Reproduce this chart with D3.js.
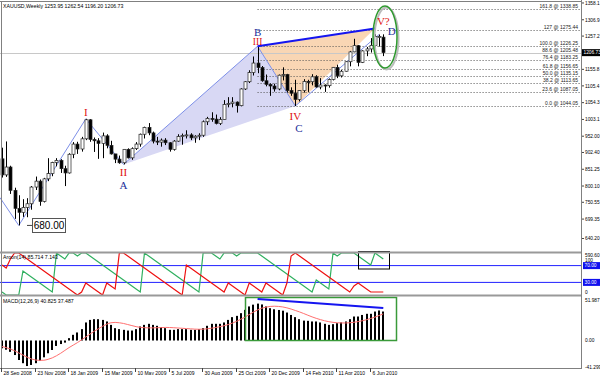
<!DOCTYPE html>
<html>
<head>
<meta charset="utf-8">
<script src="https://cdn.jsdelivr.net/npm/d3@7/dist/d3.min.js"></script>
<style>
  body { margin: 0; background: #fff; }
  svg { display: block; }
  text { font-family: "Liberation Sans", Arial, sans-serif; }
  text.wave { font-family: "Liberation Serif", "DejaVu Serif", serif; }
</style>
</head>
<body>
<svg id="chart" width="600" height="375"></svg>
<script>
// weekly XAUUSD bars, first bar = week of 28 Sep 2008
const open = [883,834,858,787,732,720,735,746,797,815,753,822,838,872,878,853,840,897,928,913,944,1002,942,938,930,953,924,898,882,871,912,886,914,928,958,979,962,937,934,940,932,912,937,951,954,956,947,952,955,996,1006,1004,991,1003,1049,1052,1056,1045,1096,1118,1146,1175,1161,1121,1110,1105,1096,1138,1140,1091,1083,1064,1091,1119,1118,1133,1102,1108,1106,1125,1162,1136,1150,1179,1209,1228,1177,1212,1218,1229,1256,1253.95];
const high = [917,936,862,795,772,760,763,800,829,820,825,885,874,885,882,862,900,934,935,950,1005,1004,948,946,963,958,938,898,893,912,915,918,934,960,981,992,966,950,945,946,934,940,958,960,970,961,955,961,1000,1011,1025,1018,1010,1062,1071,1071,1058,1098,1120,1153,1195,1226.25,1166,1140,1113,1112,1140,1162,1142,1101,1124,1092,1126,1124,1141,1138,1129,1110,1128,1163,1170,1154,1180,1212,1249,1230,1214,1224,1251,1263,1262,1262.54];
const low = [826,828,776,700,680,706,705,728,788,740,750,815,830,860,840,800,838,885,898,905,940,935,904,883,885,915,896,870,868,866,884,880,910,920,945,955,930,925,920,925,905,908,935,926,945,940,932,940,950,986,996,988,986,1003,1040,1040,1024,1043,1093,1114,1137,1144,1118,1104,1075,1088,1092,1122,1085,1075,1044.05,1058,1085,1087,1107,1100,1095,1087,1100,1122,1129,1131,1149,1165,1208,1165,1175,1196,1207,1224,1225,1196.2];
const close = [834,858,787,732,720,735,746,797,815,753,822,838,872,878,853,840,897,928,913,944,1002,942,938,930,953,924,898,882,871,912,886,914,928,958,979,962,937,934,940,932,912,937,951,954,956,947,952,955,996,1006,1004,991,1003,1049,1052,1056,1045,1096,1118,1146,1175,1161,1121,1110,1105,1096,1138,1140,1091,1083,1064,1091,1119,1118,1133,1102,1108,1106,1125,1162,1136,1150,1179,1209,1228,1177,1212,1218,1229,1256,1256,1206.73];

const aroonUp = [7.14,0,0,0,0,57.14,50,42.86,35.71,28.57,21.43,14.29,7.14,100,92.86,85.71,100,100,92.86,100,100,92.86,85.71,78.57,71.43,64.29,57.14,50,42.86,35.71,28.57,21.43,14.29,7.14,100,92.86,85.71,78.57,71.43,64.29,57.14,50,42.86,35.71,28.57,21.43,14.29,7.14,100,100,100,92.86,85.71,100,100,100,92.86,100,100,100,100,100,92.86,85.71,78.57,71.43,64.29,57.14,50,42.86,35.71,28.57,21.43,14.29,7.14,35.71,28.57,21.43,14.29,100,92.86,100,100,100,100,92.86,85.71,78.57,71.43,100,92.86,85.71];
const aroonDown = [71.43,64.29,85.71,100,100,92.86,85.71,78.57,71.43,64.29,57.14,50,42.86,35.71,28.57,21.43,14.29,7.14,0,7.14,28.57,21.43,14.29,7.14,0,28.57,21.43,14.29,100,100,92.86,85.71,78.57,71.43,64.29,57.14,50,42.86,35.71,28.57,21.43,14.29,7.14,0,71.43,64.29,57.14,50,42.86,35.71,28.57,21.43,14.29,7.14,28.57,21.43,14.29,7.14,0,28.57,21.43,14.29,7.14,28.57,21.43,14.29,7.14,0,28.57,92.86,100,92.86,85.71,78.57,71.43,64.29,57.14,50,42.86,35.71,28.57,21.43,14.29,7.14,21.43,28.57,21.43,14.29,7.14,7.14,7.14,7.14];

const macdMain = [-11,-13,-16,-20.5,-27.5,-32,-36,-34.5,-32,-28.5,-23.7,-18,-13.4,-7.7,-5,-3,3.3,8,11.3,16,25.4,29,30,30,29,26.8,22,17.4,16,15,14,14,16,19.7,22,23.5,22,20.7,18.8,17.4,15,15,16,16,16,15,15,16,17.4,20.7,23.5,23.5,23.5,25.4,29,32.9,34.7,38.5,43.2,48,50.5,51.987,50.8,48,45.5,44,43,42,39.4,36,32.9,30,28,27.7,26.8,26.8,25.4,23.5,22,23,24.4,25.4,26.8,30,33.8,33.8,36,37.6,37.6,40.8,42.3,40.825];
const macdSignal = [-8.5,-10,-12,-14.5,-17.5,-20.5,-23.5,-26,-27.5,-28,-27.8,-26.5,-24.5,-21.5,-18,-14,-10,-6.5,-3,1,5,9,13,16.5,20,23,25,25.5,25,24,22.5,21,19.5,18.5,18,17.8,17.8,18,18.2,18.4,18.3,18,17.6,17.2,16.8,16.4,16,15.8,16,16.5,17.3,18.3,19.4,20.8,22.5,24.5,27,30,33,36.5,40,43,45.5,47,48,48.3,48,47.3,46,44.3,42.3,40.3,38,35.6,33.3,31.2,29.4,27.8,26.5,25.6,25,24.7,24.7,25,25.7,26.6,27.8,29.3,31,33,35.2,37.487];

const dateLabels = ["28 Sep 2008","23 Nov 2008","18 Jan 2009","15 Mar 2009","10 May 2009","5 Jul 2009","30 Aug 2009","25 Oct 2009","20 Dec 2009","14 Feb 2010","11 Apr 2010","6 Jun 2010"];
const priceTicks = ["1358.1","1306.9","1257.2","1155.8","1105.4","1054.3","1003.1","952.00","902.40","851.25","800.10","750.55","699.35","640.20"];

// pattern points: [bar, price]
const zigzag = [[-0.5, 765], [4, 680], [20, 1005], [29, 866]];
const ptA = [29, 866], ptB = [61, 1226.25], ptC = [70, 1044.05], ptD = [90, 1262];
const ptTop = [89, 1280];
const fibLevels = [0, 23.6, 38.2, 50.0, 61.8, 76.4, 88.6, 100.0, 127, 161.8];

const svg = d3.select("#chart");
const W = 600, axisX = 581;

const x = d3.scaleLinear().domain([0, 91]).range([2, 2 + 91 * 4.19]);
const yMain = d3.scaleLinear().domain([599, 1361.1]).range([252, 2]);
const yAroon = d3.scaleLinear().domain([0, 100]).range([295, 253]);
const yMacd = d3.scaleLinear().domain([-41.299, 51.987]).range([369.8, 303.6]);

svg.append("rect").attr("width", W).attr("height", 375).attr("fill", "#fff");

// ---------- main panel ----------
const main = svg.append("g");
const pt = p => [x(p[0]), yMain(p[1])];

// lavender triangle A-B-C
main.append("path")
  .attr("d", d3.line()([pt(ptA), pt(ptB), pt(ptC)]) + "Z")
  .attr("fill", "#d8d8f4").attr("stroke", "none");
// orange triangle B-C-top
main.append("path")
  .attr("d", d3.line()([pt(ptB), pt(ptC), pt(ptTop)]) + "Z")
  .attr("fill", "#f9d6b4").attr("stroke", "none");

// fibonacci levels
const fibRange = ptB[1] - ptC[1];
fibLevels.forEach(lv => {
  const price = ptC[1] + fibRange * lv / 100;
  const yy = Math.round(yMain(price)) + 0.5;
  main.append("line").attr("x1", x(ptB[0])).attr("x2", axisX).attr("y1", yy).attr("y2", yy)
    .attr("stroke", "#555").attr("stroke-dasharray", "1,2").attr("stroke-width", 1);
  main.append("text").attr("x", 578).attr("y", yy - 1.2).attr("text-anchor", "end")
    .attr("font-size", 5).attr("fill", "#222")
    .text((lv === 127 ? "127" : lv.toFixed(1)) + " @ " + price.toFixed(2));
});

// bid line
const bidY = Math.round(yMain(close[close.length - 1])) + 0.5;
main.append("line").attr("x1", 0).attr("x2", axisX).attr("y1", bidY).attr("y2", bidY)
  .attr("stroke", "#c8c8c8");

// zigzag lines
main.append("path").attr("d", d3.line()(zigzag.map(pt)))
  .attr("fill", "none").attr("stroke", "#7d8fe8").attr("stroke-width", 1);
main.append("path").attr("d", d3.line()([pt(ptA), pt(ptB), pt(ptC), pt(ptD)]))
  .attr("fill", "none").attr("stroke", "#7d8fe8").attr("stroke-width", 1);

// candles
const bars = d3.range(open.length);
main.selectAll(".wick").data(bars).enter().append("line")
  .attr("x1", i => Math.round(x(i)) + 0.5).attr("x2", i => Math.round(x(i)) + 0.5)
  .attr("y1", i => yMain(high[i])).attr("y2", i => yMain(low[i]))
  .attr("stroke", "#000").attr("stroke-width", 1);
main.selectAll(".body").data(bars).enter().append("rect")
  .attr("x", i => Math.round(x(i)) - 1)
  .attr("width", 3)
  .attr("y", i => yMain(Math.max(open[i], close[i])))
  .attr("height", i => Math.max(1, Math.abs(yMain(open[i]) - yMain(close[i]))))
  .attr("fill", i => close[i] >= open[i] ? "#fff" : "#000")
  .attr("stroke", "#222").attr("stroke-width", 0.7);

// B -> top blue line
main.append("line").attr("x1", x(ptB[0])).attr("y1", yMain(ptB[1]))
  .attr("x2", x(ptTop[0])).attr("y2", yMain(ptTop[1]))
  .attr("stroke", "#1515f0").attr("stroke-width", 2);

// green ellipse
main.append("ellipse").attr("cx", 386.5).attr("cy", 38.5).attr("rx", 12).attr("ry", 31)
  .attr("fill", "none").attr("stroke", "#bbb").attr("stroke-width", 2);
main.append("ellipse").attr("cx", 385).attr("cy", 37).attr("rx", 12).attr("ry", 31)
  .attr("fill", "none").attr("stroke", "#2f9a2f").attr("stroke-width", 1.5);

// wave labels: text, bar, price, x offset, y offset, colour
const waveLabels = [
  ["I", 20, 1005, 0, -3, "#e01010"], ["II", 29, 866, 0, 12, "#e01010"], ["A", 29, 866, 0, 25, "#1a2e9a"],
  ["III", 61, 1226.25, 0, -1.5, "#e01010"], ["B", 61, 1226.25, 0, -10.5, "#1a2e9a"],
  ["IV", 70, 1044.05, 0, 14, "#e01010"], ["C", 70, 1044.05, 3.5, 26, "#1a2e9a"],
  ["V?", 91, 1280, 0, -3.5, "#e01010"], ["D", 93, 1262, 0, 0.5, "#1a2e9a"]
];
waveLabels.forEach(([t, b, p, dx, dy, c]) => {
  main.append("text").attr("class", "wave").attr("x", x(b) + dx).attr("y", yMain(p) + dy)
    .attr("text-anchor", "middle")
    .attr("font-size", t === "III" ? 9.5 : 11).attr("fill", c).text(t);
});

// 680.00 marker
main.append("line").attr("x1", 27).attr("x2", 33).attr("y1", yMain(680)).attr("y2", yMain(680))
  .attr("stroke", "#444");
main.append("rect").attr("x", 32.5).attr("y", 218.5).attr("width", 33).attr("height", 14)
  .attr("fill", "#fff").attr("stroke", "#555");
main.append("text").attr("x", 49).attr("y", 229).attr("text-anchor", "middle")
  .attr("font-size", 10).attr("fill", "#000").text("680.00");

// header
svg.append("text").attr("x", 3).attr("y", 8).attr("font-size", 5.2).attr("fill", "#000")
  .text("XAUUSD,Weekly  1253.95 1262.54 1196.20 1206.73");

// ---------- aroon panel ----------
const ar = svg.append("g");
[70, 30].forEach(v => {
  ar.append("line").attr("x1", 0).attr("x2", axisX).attr("y1", yAroon(v)).attr("y2", yAroon(v))
    .attr("stroke", "#2020ff").attr("stroke-width", 1);
});
ar.append("path").attr("d", d3.line().x((d, i) => x(i)).y(d => yAroon(d))(aroonUp))
  .attr("fill", "none").attr("stroke", "#30b060").attr("stroke-width", 1.2);
ar.append("path").attr("d", d3.line().x((d, i) => x(i)).y(d => yAroon(d))(aroonDown))
  .attr("fill", "none").attr("stroke", "#ee1111").attr("stroke-width", 1.2);
ar.append("rect").attr("x", 358.5).attr("y", 251.5).attr("width", 31).attr("height", 17.5)
  .attr("fill", "none").attr("stroke", "#000").attr("stroke-width", 1);
svg.append("text").attr("x", 3).attr("y", 259).attr("font-size", 5.2).attr("fill", "#000")
  .text("Aroon(14) 85.714 7.143");

// ---------- macd panel ----------
const mp = svg.append("g");
mp.selectAll(".hist").data(macdMain).enter().append("rect")
  .attr("x", (d, i) => Math.round(x(i)) - 1).attr("width", 2)
  .attr("y", d => Math.min(yMacd(d), yMacd(0)))
  .attr("height", d => Math.abs(yMacd(d) - yMacd(0)))
  .attr("fill", "#000");
mp.append("path").attr("d", d3.line().curve(d3.curveMonotoneX).x((d, i) => x(i)).y(d => yMacd(d))(macdSignal))
  .attr("fill", "none").attr("stroke", "#ff7070").attr("stroke-width", 1);
mp.append("rect").attr("x", 245.5).attr("y", 297.5).attr("width", 151).attr("height", 43)
  .attr("fill", "none").attr("stroke", "#3a9a3a").attr("stroke-width", 1.5);
mp.append("line").attr("x1", x(61)).attr("y1", 299).attr("x2", x(91)).attr("y2", 308)
  .attr("stroke", "#1515f0").attr("stroke-width", 2);
svg.append("text").attr("x", 3).attr("y", 303).attr("font-size", 5.2).attr("fill", "#000")
  .text("MACD(12,26,9) 40.825 37.487");

// ---------- frames ----------
const frame = svg.append("g").attr("stroke", "#808080").attr("fill", "none");
frame.append("line").attr("x1", 1.5).attr("x2", 1.5).attr("y1", 1).attr("y2", 368);
frame.append("line").attr("x1", 0).attr("x2", axisX).attr("y1", 1.5).attr("y2", 1.5);
frame.append("line").attr("x1", axisX + 0.5).attr("x2", axisX + 0.5).attr("y1", 0).attr("y2", 368);
frame.append("line").attr("x1", 0).attr("x2", axisX).attr("y1", 252.5).attr("y2", 252.5).attr("stroke-width", 2).attr("stroke", "#999");
frame.append("line").attr("x1", 0).attr("x2", axisX).attr("y1", 295.5).attr("y2", 295.5).attr("stroke-width", 2).attr("stroke", "#999");
frame.append("line").attr("x1", 0).attr("x2", axisX + 1).attr("y1", 368.5).attr("y2", 368.5);

// ---------- right axes ----------
const axR = svg.append("g");
priceTicks.forEach(s => {
  const yy = yMain(+s);
  axR.append("line").attr("x1", axisX + 1).attr("x2", axisX + 3).attr("y1", yy).attr("y2", yy).attr("stroke", "#444");
  axR.append("text").attr("x", 585).attr("y", yy + 1.8).attr("font-size", 4.8).attr("fill", "#000").text(s);
});
const lastY = yMain(close[close.length - 1]);
axR.append("rect").attr("x", 582).attr("y", lastY - 3.5).attr("width", 18).attr("height", 7).attr("fill", "#000");
axR.append("text").attr("x", 583.5).attr("y", lastY + 1.8).attr("font-size", 4.8).attr("fill", "#fff").text("1206.73");

axR.append("text").attr("x", 585).attr("y", 256.5).attr("font-size", 4.8).text("590.60");
axR.append("text").attr("x", 585).attr("y", 261.5).attr("font-size", 4.8).text("100");
axR.append("text").attr("x", 585).attr("y", 294).attr("font-size", 4.8).text("0");
[70, 30].forEach(v => {
  axR.append("rect").attr("x", 583).attr("y", yAroon(v) - 3.5).attr("width", 17).attr("height", 7).attr("fill", "#1010ee");
  axR.append("text").attr("x", 584.5).attr("y", yAroon(v) + 1.8).attr("font-size", 4.8).attr("fill", "#fff").text(v.toFixed(2));
});
axR.append("text").attr("x", 585).attr("y", 301.8).attr("font-size", 4.8).text("51.987");
axR.append("text").attr("x", 585).attr("y", yMacd(0) + 1.8).attr("font-size", 4.8).text("0.00");
axR.append("text").attr("x", 585).attr("y", 368.5).attr("font-size", 4.8).text("-41.299");

// ---------- date axis ----------
dateLabels.forEach((s, k) => {
  const xx = Math.round(x(k * 8)) - 0.5;
  svg.append("line").attr("x1", xx).attr("x2", xx).attr("y1", 368).attr("y2", 372).attr("stroke", "#444");
  svg.append("text").attr("x", xx + 2).attr("y", 374.5).attr("font-size", 5).text(s);
});
</script>
</body>
</html>
